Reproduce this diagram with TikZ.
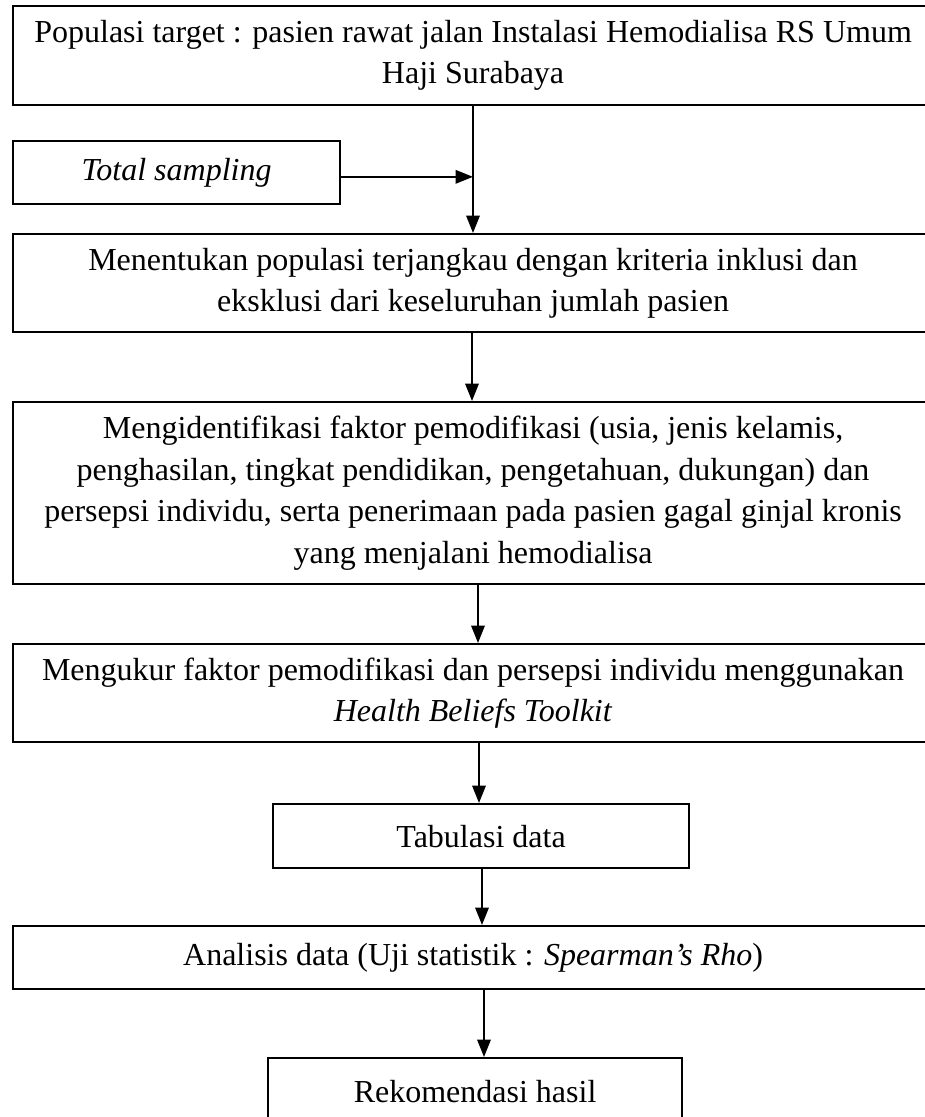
\documentclass[tikz,border=0pt]{standalone}
\usepackage{fontspec}
\setmainfont{Liberation Serif}
\usetikzlibrary{arrows.meta}
\begin{document}
\begin{tikzpicture}[x=0.375pt,y=-0.375pt,
  box/.style={draw, line width=0.8pt, inner sep=0pt, anchor=north west, align=center,
    font=\fontsize{12pt}{15.56pt}\selectfont},
  arr/.style={-{Triangle[length=6.5pt,width=5pt]}, line width=0.8pt}]
\useasboundingbox (0,0) rectangle (924,1117);

\node[box, minimum width={920*0.375pt}, minimum height={99*0.375pt}] (b1) at (12,5)
  {Populasi target : pasien rawat jalan Instalasi Hemodialisa RS Umum\\Haji Surabaya};
\node[box, minimum width={327*0.375pt}, minimum height={63*0.375pt}] (ts) at (12,140)
  {\textit{Total sampling}};
\node[box, minimum width={920*0.375pt}, minimum height={98*0.375pt}] (b3) at (12,233)
  {Menentukan populasi terjangkau dengan kriteria inklusi dan\\eksklusi dari keseluruhan jumlah pasien};
\node[box, minimum width={920*0.375pt}, minimum height={182*0.375pt}] (b4) at (12,401)
  {Mengidentifikasi faktor pemodifikasi (usia, jenis kelamis,\\penghasilan, tingkat pendidikan, pengetahuan, dukungan) dan\\persepsi individu, serta penerimaan pada pasien gagal ginjal kronis\\yang menjalani hemodialisa};
\node[box, minimum width={920*0.375pt}, minimum height={98*0.375pt}] (b5) at (12,643)
  {Mengukur faktor pemodifikasi dan persepsi individu menggunakan\\\textit{Health Beliefs Toolkit}};
\node[box, minimum width={416*0.375pt}, minimum height={64*0.375pt}] (b6) at (272,803)
  {Tabulasi data};
\node[box, minimum width={920*0.375pt}, minimum height={63*0.375pt}] (b7) at (12,925)
  {Analisis data (Uji statistik : \textit{Spearman’s Rho})};
\node[box, minimum width={414*0.375pt}, minimum height={66*0.375pt}] (b8) at (267,1057)
  {Rekomendasi hasil};

\coordinate (x1) at (473,0);
\coordinate (x2) at (472,0);
\coordinate (x3) at (478,0);
\coordinate (x4) at (479,0);
\coordinate (x5) at (482,0);
\coordinate (x6) at (484,0);

\draw[arr] (b1.south -| x1) -- (b3.north -| x1);
\draw[arr] ([yshift=-1.6pt]ts.east) -- ([yshift=-1.6pt]ts.east -| x1);
\draw[arr] (b3.south -| x2) -- (b4.north -| x2);
\draw[arr] (b4.south -| x3) -- (b5.north -| x3);
\draw[arr] (b5.south -| x4) -- (b6.north -| x4);
\draw[arr] (b6.south -| x5) -- (b7.north -| x5);
\draw[arr] (b7.south -| x6) -- (b8.north -| x6);
\end{tikzpicture}
\end{document}
